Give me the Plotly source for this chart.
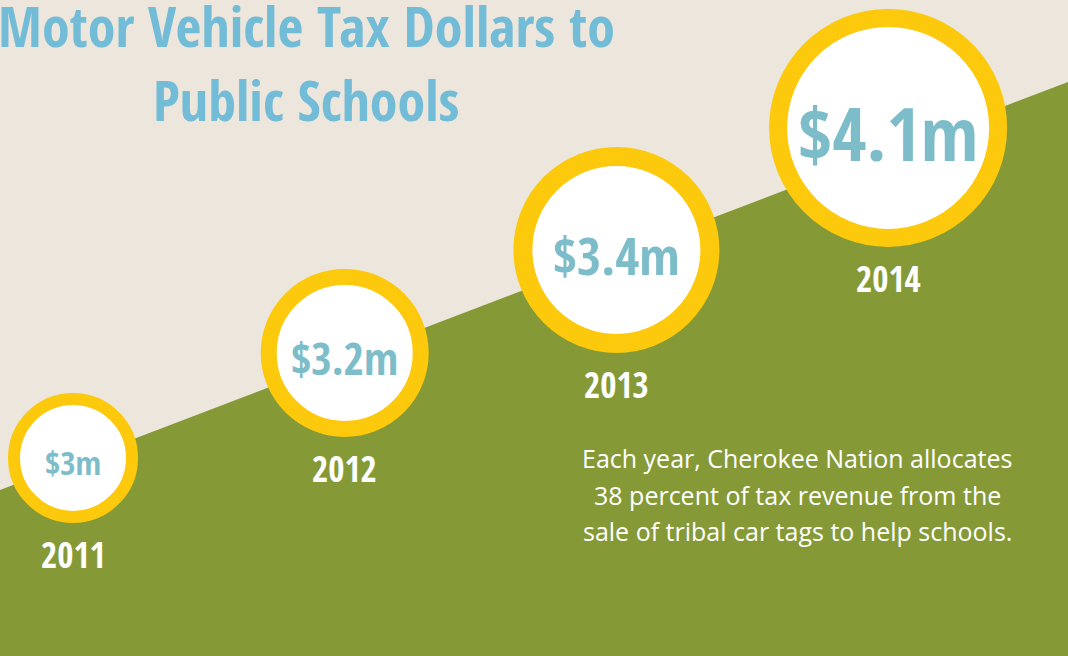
import plotly.graph_objects as go

# data
years = [2011, 2012, 2013, 2014]
amounts = [3.0, 3.2, 3.4, 4.1]
amount_labels = ['$3m', '$3.2m', '$3.4m', '$4.1m']
title_lines = ['Motor Vehicle Tax Dollars to', 'Public Schools']
note_lines = ['Each year, Cherokee Nation allocates',
              '38 percent of tax revenue from the',
              'sale of tribal car tags to help schools.']

# layout / style (stair steps, circle sizes)
step_level = [3.02, 4.62, 6.19, 8.05]
outer_d = [130, 168, 206, 238]
ring_w = [12, 16, 19, 18]
value_font = [33, 44, 52, 74]

W, H = 1068, 656
BEIGE = '#ece6dc'
GREEN = '#859a37'
YELLOW = '#fdc90c'
BLUE_TXT = '#7dbdca'
BLUE_TITLE = '#73bcd7'
COND = 'Open Sans Condensed, Roboto Condensed, sans-serif'
BODY = 'Open Sans, Noto Sans, sans-serif'

fig = go.Figure()

## circles with yellow ring
fig.add_trace(go.Scatter(
    x=years, y=step_level, mode='markers',
    marker=dict(size=[d - w for d, w in zip(outer_d, ring_w)],
                color='white', opacity=1,
                line=dict(color=YELLOW, width=ring_w)),
    hoverinfo='skip', showlegend=False,
))

## amount inside circle, year below it
for yr, lv, d, lab, fs in zip(years, step_level, outer_d, amount_labels, value_font):
    fig.add_annotation(x=yr, y=lv, text=lab, showarrow=False, yshift=-5,
                       xanchor='center', yanchor='middle',
                       font=dict(family=COND, size=fs, color=BLUE_TXT, weight='bold'))
    fig.add_annotation(x=yr, y=lv, text=str(yr), showarrow=False,
                       yshift=-(d / 2 + 32), xanchor='center', yanchor='middle',
                       font=dict(family=COND, size=35, color='white', weight='bold'))

## title
for txt, ty in zip(title_lines, [25, 99]):
    fig.add_annotation(x=306, y=ty, xref='x2', yref='y2', text=txt, showarrow=False,
                       xanchor='center', yanchor='middle',
                       font=dict(family=COND, size=56, color=BLUE_TITLE, weight='bold'))

## note text
for txt, ty in zip(note_lines, [458, 495, 531]):
    fig.add_annotation(x=797, y=ty, xref='x2', yref='y2', text=txt,
                       showarrow=False, xanchor='center', yanchor='middle',
                       font=dict(family=BODY, size=25, color='white'))

## green diagonal band
fig.add_shape(type='path', xref='paper', yref='paper', layer='below',
              path='M 0,0 L 0,0.253 L 1,0.875 L 1,0 Z',
              fillcolor=GREEN, line=dict(width=0))

px_per_year = 271.7
fig.update_layout(
    width=W, height=H,
    margin=dict(l=0, r=0, t=0, b=0),
    paper_bgcolor=BEIGE, plot_bgcolor='rgba(0,0,0,0)',
    xaxis=dict(range=[2011 - 73 / px_per_year, 2011 + (W - 73) / px_per_year],
               visible=False, fixedrange=True),
    yaxis=dict(range=[0, 10], visible=False, fixedrange=True),
    xaxis2=dict(range=[0, W], visible=False, overlaying='x', fixedrange=True),
    yaxis2=dict(range=[H, 0], visible=False, overlaying='y', fixedrange=True),
)

fig.write_html("out.html", config={'displayModeBar': False},
               post_script="document.body.style.margin='0';")
